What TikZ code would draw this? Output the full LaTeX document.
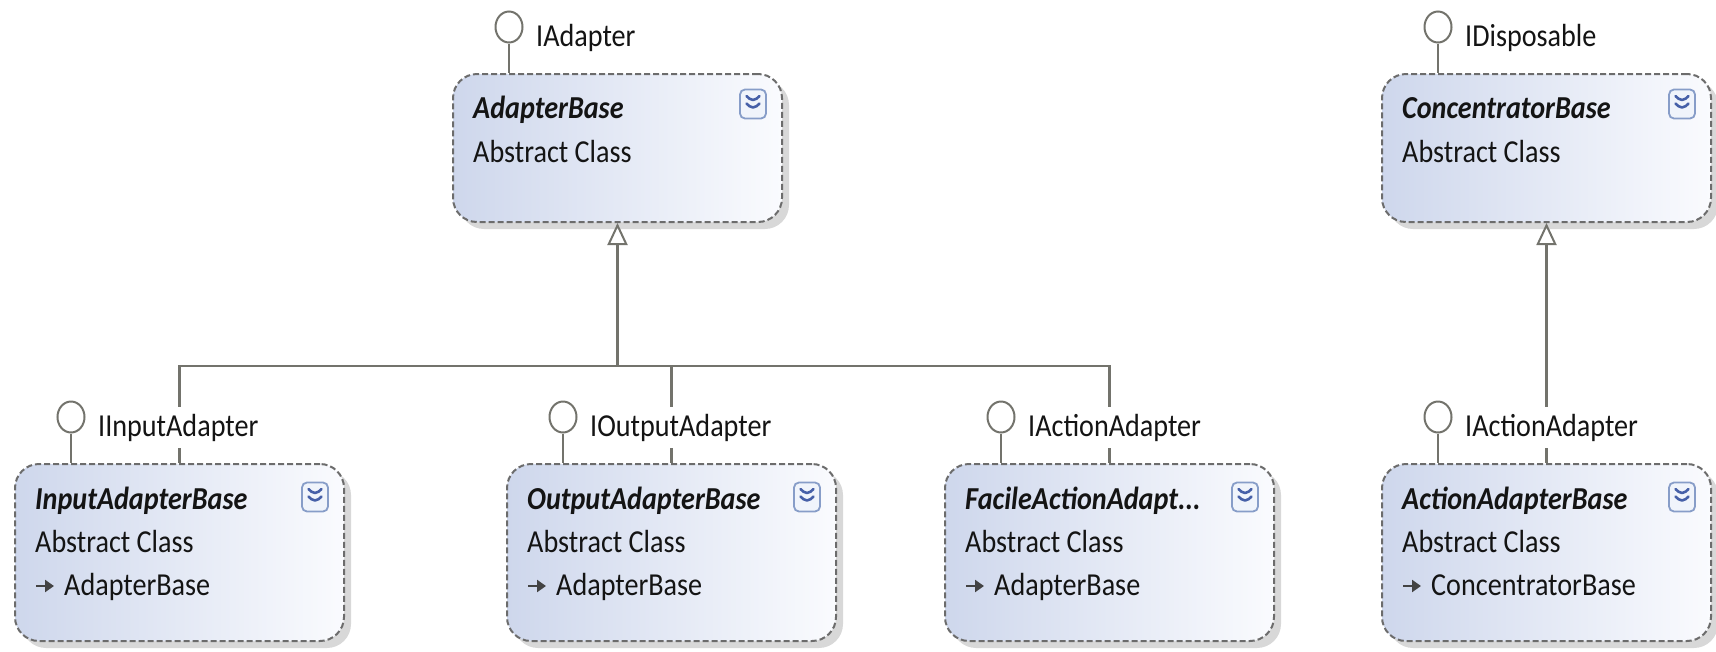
\documentclass[tikz,border=0pt]{standalone}
\usepackage{fontspec}
\setmainfont{Carlito}[FakeStretch=0.88]
\usetikzlibrary{arrows.meta,shadows,calc,shapes.geometric}

\definecolor{boxleft}{RGB}{206,215,236}
\definecolor{boxright}{RGB}{250,251,254}
\definecolor{edgegray}{RGB}{108,108,108}
\definecolor{shadowgray}{RGB}{216,216,216}
\definecolor{linkgray}{RGB}{115,115,108}
\definecolor{inktext}{RGB}{20,20,20}
\definecolor{iconedge}{RGB}{135,157,200}
\definecolor{iconfill}{RGB}{240,244,251}
\definecolor{iconmark}{RGB}{70,96,168}

\tikzset{
  classbox/.style={rectangle, anchor=north west, rounded corners=24pt,
    draw=edgegray, line width=2pt, dash pattern=on 6pt off 3pt,
    left color=boxleft, right color=boxright,
    general shadow={fill=shadowgray, shadow xshift=7pt, shadow yshift=-7pt},
    minimum width=329pt, inner sep=0pt},
  topbox/.style={classbox, minimum height=148pt},
  lowbox/.style={classbox, minimum height=177pt},
  clsname/.style={anchor=base west, inner sep=0pt, text=inktext,
    font=\fontsize{32}{38}\selectfont\bfseries\itshape},
  clskind/.style={anchor=base west, inner sep=0pt, text=inktext},
  expander/.style={rectangle, draw=iconedge, line width=1.8pt, fill=iconfill,
    rounded corners=5pt, minimum width=26pt, minimum height=29pt, inner sep=0pt,
    path picture={
      \draw[iconmark, line width=2.6pt, line cap=round, line join=round]
        ($(path picture bounding box.center)+(-6.5,-8)$) -- ++(6.5,6) -- ++(6.5,-6)
        ($(path picture bounding box.center)+(-6.5,-0.5)$) -- ++(6.5,6) -- ++(6.5,-6);
    }},
  lollipop/.style={ellipse, draw=linkgray, line width=2pt, fill=white,
    minimum width=27pt, minimum height=31pt, inner sep=0pt},
  stem/.style={draw=linkgray, line width=2.2pt},
  ifacelabel/.style={anchor=base west, fill=white, inner xsep=2pt, inner ysep=7pt,
    text=inktext},
  link/.style={draw=linkgray, line width=2.2pt},
  genarrow/.style={-{Triangle[length=22pt, width=20pt, fill=white, line width=2pt]}},
  basearrow/.style={draw=inktext!80, line width=2.8pt,
    -{Triangle[length=9pt, width=12pt]}},
}

\begin{document}
\begin{tikzpicture}[x=1pt, y=-1pt, font=\fontsize{32}{38}\selectfont]
\useasboundingbox (0,0) rectangle (1716,651);

% class boxes
\node[topbox] (AB)  at (452,73)  {};
\node[topbox] (CB)  at (1381,73) {};
\node[lowbox] (IAB) at (14,463)  {};
\node[lowbox] (OAB) at (506,463) {};
\node[lowbox] (FAB) at (944,463) {};
\node[lowbox] (AAB) at (1381,463) {};

% class names and kinds
\node[clsname] (ABn)  at ($(AB.north west)+(21,45)$)  {AdapterBase};
\node[clskind] (ABk)  at ($(AB.north west)+(21,89)$)  {Abstract Class};
\node[clsname] (CBn)  at ($(CB.north west)+(21,45)$)  {ConcentratorBase};
\node[clskind] (CBk)  at ($(CB.north west)+(21,89)$)  {Abstract Class};
\node[clsname] (IABn) at ($(IAB.north west)+(21,46)$) {InputAdapterBase};
\node[clskind] (IABk) at ($(IAB.north west)+(21,89)$) {Abstract Class};
\node[clsname] (OABn) at ($(OAB.north west)+(21,46)$) {OutputAdapterBase};
\node[clskind] (OABk) at ($(OAB.north west)+(21,89)$) {Abstract Class};
\node[clsname] (FABn) at ($(FAB.north west)+(21,46)$) {FacileActionAdapt...};
\node[clskind] (FABk) at ($(FAB.north west)+(21,89)$) {Abstract Class};
\node[clsname] (AABn) at ($(AAB.north west)+(21,46)$) {ActionAdapterBase};
\node[clskind] (AABk) at ($(AAB.north west)+(21,89)$) {Abstract Class};

% base class lines
\foreach \b/\base in {IAB/AdapterBase, OAB/AdapterBase, FAB/AdapterBase, AAB/ConcentratorBase}{
  \draw[basearrow] ($(\b.north west)+(22,123)$) -- ++(18,0);
  \node[clskind] (\b-base) at ($(\b.north west)+(50,132)$) {\base};
}

% expand buttons
\foreach \b/\dy in {AB/31, CB/31, IAB/34, OAB/34, FAB/34, AAB/34}{
  \node[expander] (\b-exp) at ($(\b.north east)+(-30,\dy)$) {};
}

% implemented interfaces (lollipops)
\foreach \b in {AB, CB, IAB, OAB, FAB, AAB}{
  \node[lollipop] (\b-pop) at ($(\b.north west)+(57,-46)$) {};
  \draw[stem] (\b-pop.south) -- (\b-pop.south |- \b.north);
}

% inheritance connectors
\coordinate (bar) at (0,366);
\draw[link] (IAB.north) |- (bar -| FAB.north) -- (FAB.north);
\draw[link] (OAB.north) -- (OAB.north |- bar);
\draw[link, genarrow] (AB.south |- bar) -- (AB.south);
\draw[link, genarrow] (AAB.north) -- (CB.south);

% interface names
\node[ifacelabel] (ABl)  at ($(AB-pop.center)+(25,19)$)  {IAdapter};
\node[ifacelabel] (CBl)  at ($(CB-pop.center)+(25,19)$)  {IDisposable};
\node[ifacelabel] (IABl) at ($(IAB-pop.center)+(25,19)$) {IInputAdapter};
\node[ifacelabel] (OABl) at ($(OAB-pop.center)+(25,19)$) {IOutputAdapter};
\node[ifacelabel] (FABl) at ($(FAB-pop.center)+(25,19)$) {IActionAdapter};
\node[ifacelabel] (AABl) at ($(AAB-pop.center)+(25,19)$) {IActionAdapter};
\end{tikzpicture}
\end{document}
